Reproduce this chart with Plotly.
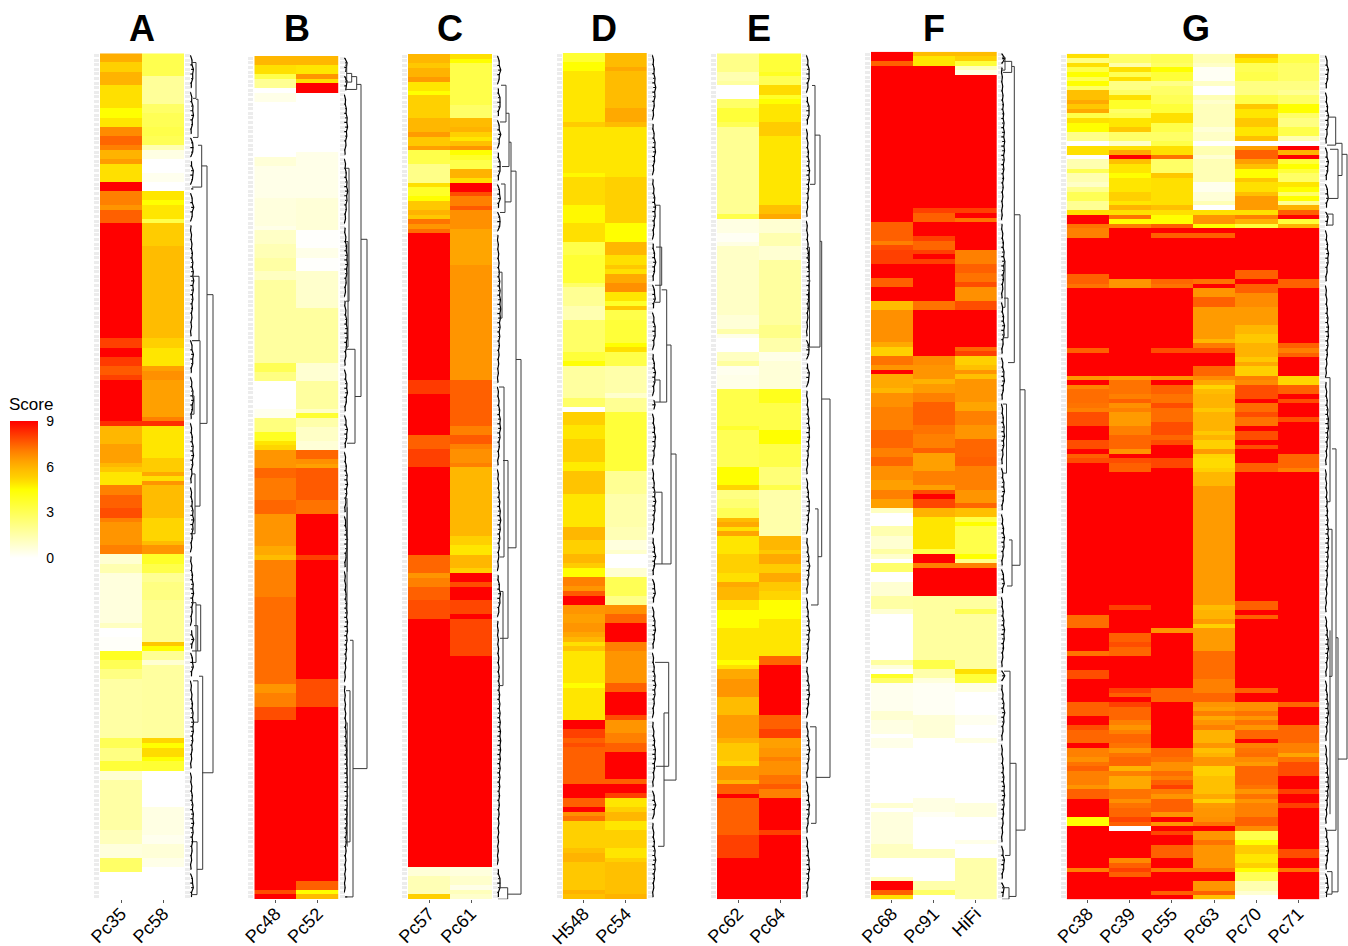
import numpy as np
import plotly.graph_objects as go

N_ROWS = 184
FONT = "Liberation Sans"

# Every column is a list of (row where the run ends, score)
Pc35 = [(2,6.1),(4,5.3),(7,6),(12,5),(14,4.5),(16,4.9),(18,6.8),(20,7.4),(21,7),(23,6),(24,6.5),(28,5),(30,9),(33,7),(34,6.6),(37,7.5),(62,9),(64,8),(66,9),(68,8.1),(70,7.6),(71,8),(80,9),(81,8.3),(85,5.9),(89,6.4),(90,5.9),(91,5.5),(94,4.9),(96,7),(99,7.5),(101,7.8),(102,7),(107,6.6),(109,7),(111,.8),(113,1.4),(124,.6),(125,1.1),(127,0),(130,.1),(132,3.9),(134,3),(136,2.2),(149,1.6),(151,3),(154,2.2),(156,3.5),(158,.8),(169,1.6),(172,1.2),(175,.6),(178,2.7),(184,0)]
Pc58 = [(5,3.1),(11,1.8),(13,2.7),(16,3),(18,3.2),(20,3),(21,1.4),(23,.5),(26,0),(28,.3),(30,0),(32,4.9),(33,4.5),(36,4.9),(37,3.2),(42,5.4),(62,5.8),(64,5.3),(68,4.9),(69,6.4),(71,6.7),(79,6.4),(80,7),(81,8.3),(88,4.9),(91,5.4),(92,6.2),(93,5),(94,6.6),(101,5.8),(106,5.2),(107,5.8),(109,6.6),(111,3.8),(113,3.2),(115,1.9),(119,2.2),(128,1.9),(129,5.5),(130,4.5),(132,1.9),(133,.8),(149,1.7),(150,5.2),(151,4.5),(153,5.1),(154,4.5),(156,3.6),(164,0),(170,.5),(172,.3),(175,.7),(177,.4),(184,0)]
Pc48 = [(2,5.9),(4,5),(5,3.2),(7,1.9),(8,0),(10,.4),(22,0),(24,.7),(31,.4),(37,.6),(38,.4),(41,1),(44,1.3),(47,1.6),(49,1.1),(67,1.7),(69,3),(71,2.2),(77,0),(79,.3),(82,2.3),(84,3.9),(85,4.9),(86,5.2),(90,6.6),(92,7.4),(97,7.1),(100,7.4),(107,6.6),(109,6.2),(110,5.8),(118,7),(137,7.3),(139,6.6),(142,7),(145,7.8),(182,9),(183,7.8),(184,9)]
Pc52 = [(2,5.9),(4,4.9),(5,6.6),(6,5),(8,9),(21,0),(31,.4),(38,.7),(42,.05),(44,.4),(47,.05),(49,.9),(55,.9),(67,1.7),(71,.8),(77,1.7),(78,1),(79,3.6),(81,1.5),(84,1),(86,.7),(88,7.4),(89,6.7),(90,6.4),(97,7.6),(100,7.2),(109,9),(110,8),(136,9),(142,7.8),(180,9),(182,7.5),(183,4.5),(184,5.8)]
Pc57 = [(2,5.9),(3,5.5),(5,6),(6,6.5),(8,4.9),(9,4.5),(14,5.3),(17,5.9),(18,6.5),(20,5.5),(21,6.4),(24,3.2),(28,2.1),(29,5),(31,3.8),(32,4.5),(34,5.5),(35,6),(36,5.5),(37,7.2),(38,6.6),(39,7.3),(71,9),(74,8.1),(83,9),(86,7.5),(90,8),(109,9),(113,7.4),(114,6.6),(116,7),(119,7.5),(123,7.8),(177,9),(179,.7),(183,1.3),(184,5.3)]
Pc61 = [(1,5),(2,4.5),(11,3.2),(14,2.7),(16,5.8),(17,6),(18,5.3),(19,4.9),(20,5.7),(21,6.6),(22,4.5),(23,3.8),(25,3.2),(27,6),(28,5),(30,9),(31,7.8),(33,7),(34,7.6),(38,6.7),(46,6.3),(71,6.6),(81,7.5),(83,7),(85,7.6),(86,7),(89,6.7),(90,7),(105,5.9),(107,5.3),(109,4.9),(112,5.9),(113,5.3),(115,9),(116,7.8),(119,9),(122,7.9),(123,9),(131,7.9),(177,9),(179,.6),(181,.9),(182,.4),(183,1.2),(184,.9)]
H548 = [(2,3.6),(4,4.5),(15,4.9),(16,5.4),(26,4.9),(27,4.6),(33,5.1),(37,4.6),(41,5),(44,3.2),(50,3.6),(51,2.7),(55,1.9),(58,1.4),(65,2.7),(67,3.5),(68,4.4),(75,1.7),(77,2.7),(78,0),(81,5.3),(84,4.9),(89,5.3),(91,4.8),(96,5.6),(103,4.9),(106,5.9),(109,5.3),(111,5.9),(112,5.4),(114,4.5),(116,7),(117,6.6),(118,7.6),(120,9),(122,6.6),(124,6.4),(126,6.6),(127,6.3),(128,5.9),(129,5),(130,5.6),(137,4.9),(138,4.5),(145,4.9),(147,9),(149,8),(150,7.5),(151,7.8),(159,7.5),(162,9),(164,7.5),(165,9),(166,6.7),(167,7.2),(173,5.3),(174,5.7),(176,6),(182,5.5),(183,6),(184,5.7)]
Pc54 = [(3,5.8),(4,6.2),(12,5.8),(15,6.2),(16,5.8),(27,4.9),(37,5.3),(41,4.5),(44,5.9),(46,5),(47,5.5),(48,5),(50,6.2),(52,6.7),(54,4.9),(55,3.8),(56,5.5),(58,3.2),(63,3.5),(64,4.5),(65,5),(68,3.2),(74,1.5),(75,.9),(78,1.9),(91,3.5),(96,1.9),(103,1.5),(106,1.3),(108,.6),(109,.9),(112,0),(114,.8),(118,3),(120,2.1),(122,6.7),(124,7.4),(128,9),(130,7),(137,6.6),(139,7.5),(144,9),(145,7.8),(148,6.6),(150,7),(152,7.5),(158,9),(159,7.5),(161,9),(162,8),(164,4.9),(165,5.3),(167,5.9),(169,4.9),(173,5.3),(175,4.9),(176,5.3),(183,5.7),(184,6)]
Pc62 = [(4,2.1),(6,1.4),(7,1.7),(10,0),(12,2.7),(15,3.5),(16,3),(35,1.9),(36,3.2),(39,.5),(41,.2),(42,.5),(57,1),(60,.7),(61,1.5),(62,.4),(65,0),(67,1.1),(68,1.7),(70,.3),(73,.4),(81,3.2),(82,3.7),(90,3),(94,4.5),(95,5.2),(97,2.2),(99,2.5),(101,3),(102,5.8),(103,6.2),(104,5),(105,6.3),(109,4.9),(113,5.3),(115,5),(116,6.2),(119,5.9),(121,5),(125,4.5),(132,4.9),(133,4.5),(134,5),(136,6.2),(140,6.6),(144,5.8),(149,6.5),(150,6.1),(154,5.5),(155,5.2),(158,6.6),(159,6),(161,7.5),(162,9),(170,7.5),(175,8),(184,9)]
Pc64 = [(4,3.5),(5,3.9),(7,3),(9,5.1),(10,3.8),(11,4.5),(15,4.9),(18,5.4),(33,4.9),(35,5.7),(36,6.2),(39,.8),(42,1.4),(45,.8),(59,1.7),(62,2.1),(65,1.5),(67,.4),(73,.7),(76,4),(82,3.2),(85,4.5),(90,3.2),(94,2.4),(95,3.2),(105,1.5),(108,5.9),(109,5.5),(111,6.2),(113,5.4),(115,6.2),(117,5.5),(119,5.2),(123,4.5),(131,4.9),(133,7.4),(144,9),(147,7.5),(149,8),(151,6.4),(153,6.6),(154,7),(157,6.7),(159,7.2),(160,7.6),(162,7),(169,9),(170,8),(184,9)]
Pc68 = [(2,9),(3,7.5),(37,9),(41,7.5),(42,7),(43,7.8),(46,8),(49,9),(51,7.5),(54,9),(56,5.8),(63,6.7),(64,6.2),(66,5.3),(68,7.2),(69,6.6),(70,9),(73,6.2),(74,5.9),(77,6.7),(82,7),(86,7.4),(88,7),(90,7.4),(93,6.7),(95,6.4),(97,7),(99,6.4),(100,1.1),(103,0),(105,1.4),(108,.8),(109,1.6),(110,.9),(111,0),(113,2.6),(115,0),(118,.8),(121,1.6),(122,.8),(132,0),(133,1.7),(134,.6),(135,0),(136,3.8),(137,2.7),(143,.3),(145,.8),(148,.5),(149,0),(151,.4),(163,0),(164,.8),(165,0),(172,.6),(175,1.1),(179,0),(180,1.1),(182,9),(183,7.5),(184,5)]
Pc91 = [(1,5.8),(3,4.9),(34,9),(35,8),(37,7.5),(40,9),(41,8),(43,7.4),(44,8),(45,9),(46,8),(54,9),(56,7.2),(66,9),(68,6.8),(71,6.6),(72,6),(74,6.5),(76,7),(81,7.5),(83,7.2),(86,7),(87,7.5),(91,6.4),(94,7),(95,6.4),(96,7.8),(97,9),(99,7.9),(101,6),(108,4.9),(109,3.2),(111,9),(112,7),(118,9),(132,1.7),(134,3.2),(136,1.5),(137,.6),(144,.2),(149,.7),(162,0),(165,.5),(166,.2),(173,0),(175,1.1),(180,0),(182,1.5),(183,2.7),(184,0)]
HiFi = [(1,5.8),(2,5.3),(3,3.5),(4,1.2),(5,.5),(34,9),(35,8),(36,9),(37,7.2),(43,9),(46,7),(48,7.5),(50,7.2),(51,7.8),(54,6.7),(56,7.8),(64,9),(65,7.4),(66,8),(68,5.3),(69,5.7),(70,6.6),(71,5.7),(76,6.6),(78,6.3),(81,7),(84,6.6),(86,7.4),(88,7.4),(90,7.5),(91,7),(95,7),(98,6.6),(99,7.4),(101,5.7),(102,3.3),(103,4.5),(108,3.2),(109,3.2),(110,4.5),(111,2.1),(112,7),(118,9),(121,1.7),(122,3),(134,1.7),(135,5),(137,3.5),(139,.5),(144,0),(146,.3),(149,0),(150,.5),(163,0),(166,.6),(171,0),(172,.4),(175,0),(184,1.5)]
Pc38 = [(1,5),(2,2.2),(3,5),(4,3.2),(5,4.5),(6,3),(7,4.5),(8,2.7),(10,5.7),(11,6.2),(12,5.5),(13,6.2),(14,3.2),(15,5),(17,4.5),(19,2.1),(20,0),(22,5),(23,0),(25,1.4),(26,3),(28,1.4),(29,1),(30,2),(32,3),(34,1.9),(35,5),(37,9),(38,7.2),(40,7),(48,9),(50,7.5),(51,7.2),(64,9),(65,7.5),(70,9),(71,6.6),(72,9),(73,6.9),(76,7.3),(77,7.2),(78,7),(81,7.8),(84,9),(86,7.8),(87,9),(88,7.5),(89,7.8),(122,9),(125,7.3),(130,9),(131,7.2),(134,9),(136,7.8),(141,9),(144,7.5),(146,9),(147,7.8),(150,7.4),(151,9),(153,7),(154,6.7),(155,7.2),(156,7.5),(159,7),(160,6.6),(162,7.5),(166,9),(168,4.5),(177,9),(178,7),(184,9)]
Pc39 = [(2,2.7),(3,1.5),(4,5),(5,3),(6,5),(8,2.2),(9,2.7),(10,5),(12,3.8),(13,2.7),(14,3),(16,4.9),(17,5.5),(19,2.7),(20,1),(21,5),(22,6.2),(23,9),(24,5.7),(26,4.9),(27,4.5),(30,4.9),(32,5.3),(33,4.9),(34,6),(35,5),(36,7.2),(37,4.5),(38,7),(49,9),(51,6.6),(70,9),(71,6.4),(74,7.2),(75,7),(76,7.5),(77,6.7),(78,7),(81,6.5),(83,7),(86,7.4),(87,6.6),(88,9),(89,7.8),(91,7.5),(120,9),(121,8),(126,9),(128,7.5),(129,7.8),(131,7.4),(138,9),(139,8),(140,7.5),(141,9),(142,8),(145,7.4),(146,7),(147,6.6),(148,7),(150,7.4),(151,7.2),(152,6.6),(153,7.2),(155,7.4),(156,6),(157,7),(160,6.2),(162,7.2),(163,6.7),(164,7.2),(166,7.4),(167,7.9),(168,7.5),(169,0),(175,9),(176,6.8),(177,7.5),(178,8),(179,7.5),(184,9)]
Pc55 = [(2,3),(3,2.7),(4,4.5),(6,3.5),(7,2.1),(9,2.7),(11,3),(13,3.5),(15,5),(17,3.2),(19,2.7),(20,3.2),(22,5),(23,7.2),(26,2.7),(27,5.5),(33,5),(34,5.7),(35,5),(37,4.5),(38,7.5),(39,9),(40,7.5),(49,9),(50,7.4),(51,7.2),(64,9),(65,7.8),(70,9),(71,6.6),(72,9),(74,7.5),(76,7.2),(77,7.8),(80,7.3),(83,7.8),(84,7.4),(85,7.8),(88,9),(90,7.9),(125,9),(126,6.6),(138,9),(141,7.4),(151,9),(153,7.4),(154,7.2),(156,6.7),(157,7.3),(158,7),(159,7.5),(160,8),(161,7.1),(162,6.6),(165,7.5),(166,6.6),(167,9),(168,6.6),(169,9),(170,7.9),(172,9),(175,7.5),(177,9),(178,7.2),(182,9),(183,7.5),(184,9)]
Pc63 = [(2,1.3),(3,1),(6,.2),(7,1),(9,0),(10,1.3),(11,.9),(16,1.2),(17,.7),(19,1),(20,0),(22,1.4),(23,.8),(28,1.3),(30,.3),(32,.7),(33,1.3),(34,0),(35,5),(37,6.6),(38,4.5),(39,9),(40,7.5),(49,9),(50,7.2),(51,9),(53,6.6),(55,7.5),(62,6.5),(63,5.9),(64,7.1),(65,7.8),(68,9),(70,7.4),(71,6.8),(72,6.2),(73,5.2),(74,5.8),(77,6),(78,5.5),(82,6),(83,5.5),(84,6),(86,5.3),(87,6.5),(88,5.2),(90,5.1),(91,5.3),(94,5.9),(120,6.5),(121,5.8),(123,6),(124,6.5),(125,5.3),(130,6.5),(136,7.3),(139,7),(141,7.4),(142,6.6),(143,6.4),(144,7),(145,6.2),(146,6.6),(147,7),(150,6),(151,6.6),(152,5.7),(153,6),(155,6.6),(157,5.3),(161,5.7),(162,6.2),(163,5.3),(164,6.5),(166,6.6),(167,6.7),(168,7.2),(169,9),(171,6.6),(172,7.2),(177,6.6),(178,7.2),(180,9),(182,6.6),(183,7.5),(184,5.7)]
Pc70 = [(1,5.5),(2,4.9),(4,3),(6,3.2),(9,2.2),(11,3.2),(12,5.5),(14,4.9),(16,5.5),(18,4.9),(19,5.7),(20,0),(21,6.4),(23,7.5),(24,6.4),(25,5.7),(27,4.5),(28,5.5),(30,5),(31,5.7),(34,6.5),(35,5),(36,7),(37,6),(38,3.5),(47,9),(49,7.5),(50,9),(52,7.5),(55,6.8),(59,6.5),(61,5.9),(63,5.5),(66,6),(67,5.5),(68,6.2),(70,5.3),(71,7),(72,6.8),(75,7.8),(76,9),(78,7.3),(79,7.8),(81,7.2),(82,9),(84,7.8),(85,9),(86,7.8),(89,9),(91,7.5),(119,9),(121,7.5),(122,9),(123,7.5),(138,9),(139,7.5),(141,9),(143,6.7),(144,7.2),(145,6.6),(146,7.2),(147,6.6),(149,7.4),(150,9),(151,7),(152,7.2),(153,7.3),(154,6.8),(155,6.5),(159,7.4),(160,7.2),(161,6.6),(162,7.2),(163,6.6),(166,7),(168,7.5),(169,6.8),(171,3.2),(172,4.5),(174,5.4),(176,4.9),(177,5.3),(178,4.5),(180,3),(182,1.4),(183,.8),(184,0)]
Pc71 = [(2,3.2),(4,2.7),(6,2.7),(8,2.2),(9,1.9),(11,2.7),(13,4.5),(14,2.7),(16,2.2),(18,3.2),(19,1.4),(20,0),(21,9),(22,6),(23,9),(24,3.5),(25,4.5),(26,3.5),(28,2.7),(29,4.9),(30,4.5),(31,2.7),(32,4.5),(33,1.9),(34,6),(35,7.5),(36,9),(37,3.5),(38,6),(49,9),(51,7.5),(63,9),(64,7.5),(65,7),(66,7.5),(70,9),(72,5.2),(74,7.5),(75,9),(76,7.8),(79,9),(80,7.8),(87,9),(90,7.4),(91,7),(141,9),(142,7.4),(146,9),(150,7.4),(152,7),(153,6.3),(154,7.2),(157,7.8),(160,9),(161,8),(163,9),(164,8),(173,9),(175,7.8),(177,9),(178,7.2),(184,9)]

TITLES = ["A", "B", "C", "D", "E", "F", "G"]
COLUMNS = [
    ["Pc35", "Pc58"], ["Pc48", "Pc52"], ["Pc57", "Pc61"], ["H548", "Pc54"],
    ["Pc62", "Pc64"], ["Pc68", "Pc91", "HiFi"],
    ["Pc38", "Pc39", "Pc55", "Pc63", "Pc70", "Pc71"],
]
SCORES = [
    [Pc35, Pc58], [Pc48, Pc52], [Pc57, Pc61], [H548, Pc54],
    [Pc62, Pc64], [Pc68, Pc91, HiFi],
    [Pc38, Pc39, Pc55, Pc63, Pc70, Pc71],
]

# Dendrogram merges: (merge height, top row, bottom row, top child height, bottom child height)
TREE_A = [(6,1.5,9.3,2,3),(8,9.5,17.8,6,3),(11.7,19.5,28.6,8,2),(17,24,80,11.7,10),(23,52,156,17,12),(10,62,98,2,5),(9,48,62,2,2),(4,74,78,2,2),(5,91,104,2,2),(7.7,124,129.5,4,2),(10.7,119.5,129.5,6,7.7),(12.7,135,177,9,7),(7,171,182.5,3,1),(8,136,145,3,3),(6,119,132,3,3)]
TREE_B = [(2.7,1.5,4.6,1,1),(7.7,3.3,5.2,2.7,1),(12.7,4,6.8,7.7,1),(17,5.7,73.8,12.7,11),(23,39.5,155,17,9),(11,63.5,84,2,3),(9,127,183,6,1),(6,138,171,2,2),(5,24,53,2,2),(4,40,63,2,2),(3,96,121,1,1),(3.2,98,112,3,3),(3.2,145,172,3,3)]
TREE_C = [(24,66,182.4,19,10.7),(19,25,107,14,11),(14,18.7,31.7,12,8),(12,12.4,24,9,5),(9,6.3,14.3,4,3),(8,27.8,34,4,3),(10.7,181,183.5,2,1),(11,88,126.7,6,3),(6,116.5,137,3,2),(5,47,57,2,2),(7,72,109,2,3)]
TREE_D = [(24,86.7,157.6,19,12),(19,63,110.6,14.7,10),(14.7,51,75.4,9.7,8),(9.7,41.7,50,4,3),(8,32.6,53.7,3,3),(8,70.6,75.4,3,2),(10,95,110.6,4,3),(12,143,172,16.7,6),(16.7,132,154.6,3,4)]
TREE_E = [(24,74.7,157,15.7,10),(15.7,40.4,109,14,12),(14,17.3,63.4,9,4),(9,6.5,28,6,4),(12,98.6,119.5,9,5),(10,146,167,4,5),(3.5,41.7,63.4,1,1)]
TREE_F = [(24,72.9,168.5,19,15),(19,34.9,111,13.3,11),(13.3,2.7,67,11,7),(10.7,1.6,4,2,2),(4,.7,3.5,1,1),(7,53,61.6,3,2),(11,105.5,115.5,8,6),(15,154,182.9,9,8),(9,134,174,3,4),(8,181,183.5,1,1),(4,45,55,2,2),(5.5,76,91,2,2)]
TREE_G = [(22,21.4,153,17,13),(17,19,26,10.7,13),(10.7,13.3,19.4,3,2),(13,20.3,31,5,3),(8,34.4,36.8,2,2),(13,126.6,181.9,11,7),(11,85.5,168.5,7,2),(7,103,135,3,4),(7,177.5,182.4,2,1),(5,70,97,1,1),(5,125,165,5,5)]
TREES = [TREE_A, TREE_B, TREE_C, TREE_D, TREE_E, TREE_F, TREE_G]

# Rows where the fine leaf clusters of each dendrogram begin
CUTS_A = [0,8,18,23,29,30,37,62,70,80,94,109,125,130,136,156,178,184]
CUTS_B = [0,4,8,22,37,53,68,78,86,100,112,137,183,184]
CUTS_C = [0,7,14,21,28,34,39,72,90,113,123,177,184]
CUTS_D = [0,15,27,41,50,56,65,75,78,90,105,114,120,130,145,160,167,184]
CUTS_E = [0,9,16,36,62,67,73,92,105,118,133,145,158,170,184]
CUTS_F = [0,3,37,54,66,76,90,100,112,118,134,137,150,172,180,184]
CUTS_G = [0,8,20,28,34,38,50,71,90,122,136,150,168,178,184]
CUTS = [CUTS_A, CUTS_B, CUTS_C, CUTS_D, CUTS_E, CUTS_F, CUTS_G]


def expand(runs):
    out, start = [], 0
    for end, value in runs:
        out += [value] * (end - start)
        start = end
    if start != N_ROWS:
        raise ValueError(f"column ends at {start}")
    return out


# Pixel layout of the page
W, H = 1348, 946
HEAT_X = [(100, 184.3), (254.3, 338.7), (408, 492), (562.7, 647), (717, 801), (871, 996.7), (1066.7, 1319.3)]
HEAT_TOP = [53.3, 56, 54, 53, 53.3, 51.7, 53.7]
HEAT_BOTTOM = 899.2
DENDRO_BASE = [190, 344, 497, 652, 806, 1001, 1325]
DENDRO_W = 25
TITLE_X = [142, 297, 450, 604, 759, 934, 1196]

COLORSCALE = [
    [0, "#ffffff"], [4.5 / 9, "#ffff00"], [5 / 9, "#ffe000"], [5.3 / 9, "#ffd000"],
    [5.8 / 9, "#ffbc00"], [6.4 / 9, "#ffa000"], [7 / 9, "#ff8000"], [7.5 / 9, "#ff6000"],
    [8 / 9, "#ff4000"], [1, "#ff0000"],
]

fig = go.Figure()
layout = {}
rows = list(range(N_ROWS))
for i, title in enumerate(TITLES):
    hx, hy = ("x" if i == 0 else f"x{2*i+1}"), ("y" if i == 0 else f"y{2*i+1}")
    dx, dy = f"x{2*i+2}", f"y{2*i+2}"
    z = np.array([expand(c) for c in SCORES[i]]).T
    fig.add_trace(go.Heatmap(z=z, x=COLUMNS[i], y=rows, coloraxis="coloraxis", xaxis=hx, yaxis=hy,
                             hoverinfo="skip"))
    top, left, right = HEAT_TOP[i], HEAT_X[i][0], HEAT_X[i][1]
    ydom = [1 - HEAT_BOTTOM / H, 1 - top / H]
    hxname = "xaxis" if i == 0 else f"xaxis{2*i+1}"
    hyname = "yaxis" if i == 0 else f"yaxis{2*i+1}"
    layout[hxname] = dict(domain=[left / W, right / W], anchor=hy, type="category", side="bottom",
                          tickangle=-45, ticks="outside", ticklen=3, tickwidth=1, tickcolor="#555",
                          ticklabelstandoff=-7,
                          tickfont=dict(family=FONT, size=18, color="black"), showgrid=False,
                          zeroline=False, showline=False, automargin=False, fixedrange=True)
    layout[hyname] = dict(domain=ydom, anchor=hx, range=[N_ROWS - 0.5, -0.5], tickmode="array",
                          tickvals=rows, showticklabels=False, ticks="outside", ticklen=5,
                          tickwidth=3, tickcolor="#ececec", mirror="ticks", showgrid=False,
                          zeroline=False, showline=False, automargin=False, fixedrange=True)
    # fine leaf clusters
    lx, ly = [], []
    cuts = CUTS[i]
    for a, b in zip(cuts[:-1], cuts[1:]):
        px = []
        for r in range(a, b):
            t = (r - a + 0.5) / (b - a)
            arc = 0.5 + 2.8 * (1 - abs(2 * t - 1))
            lx += [0.3 if r % 2 == 0 else 1.2, arc, None]
            ly += [r, r, None]
            px.append(arc + (0.5 if r % 2 else -0.3))
        lx += px + [None]
        ly += list(range(a, b)) + [None]
    fig.add_trace(go.Scatter(x=lx, y=ly, mode="lines", line=dict(color="#000", width=1.2),
                             xaxis=dx, yaxis=dy, showlegend=False, hoverinfo="skip"))
    # larger merges
    tx, ty = [], []
    for h, r1, r2, h1, h2 in TREES[i]:
        tx += [h1, h, h, h2, None]
        ty += [r1, r1, r2, r2, None]
    fig.add_trace(go.Scatter(x=tx, y=ty, mode="lines", line=dict(color="#3a3a3a", width=1),
                             xaxis=dx, yaxis=dy, showlegend=False, hoverinfo="skip"))
    base = DENDRO_BASE[i]
    width = min(DENDRO_W, W - base)
    layout[f"xaxis{2*i+2}"] = dict(domain=[base / W, (base + width) / W], anchor=dy, range=[0, width],
                                   visible=False, fixedrange=True)
    layout[f"yaxis{2*i+2}"] = dict(domain=ydom, anchor=dx, range=[N_ROWS - 0.5, -0.5],
                                   visible=False, fixedrange=True)

annotations = [dict(text=f"<b>{t}</b>", x=TITLE_X[i] / W, y=1 - 28.5 / H, xref="paper", yref="paper",
                    xanchor="center", yanchor="middle", showarrow=False,
                    font=dict(family=FONT, size=36, color="black")) for i, t in enumerate(TITLES)]
annotations.append(dict(text="Score", x=31 / W, y=1 - 404.5 / H, xref="paper", yref="paper",
                        xanchor="center", yanchor="middle", showarrow=False,
                        font=dict(family=FONT, size=17, color="black")))

fig.update_layout(
    width=W, height=H, margin=dict(l=0, r=0, t=0, b=0), paper_bgcolor="white", plot_bgcolor="white",
    showlegend=False, annotations=annotations,
    coloraxis=dict(
        cmin=0, cmax=9,
        colorscale=COLORSCALE,
        colorbar=dict(
            x=10 / W, xanchor="left", y=1 - 489.5 / H, yanchor="middle", lenmode="pixels", len=137,
            thicknessmode="pixels", thickness=28, xpad=0, ypad=0, outlinewidth=0,
            tickmode="array", tickvals=[0, 3, 6, 9], ticks="outside", ticklen=6, tickcolor="#ffffff",
            tickwidth=1, tickfont=dict(family=FONT, size=14, color="black"),
        ),
    ),
    **layout,
)
fig.write_html("out.html", config={"displayModeBar": False},
               post_script="document.body.style.margin='0';")
